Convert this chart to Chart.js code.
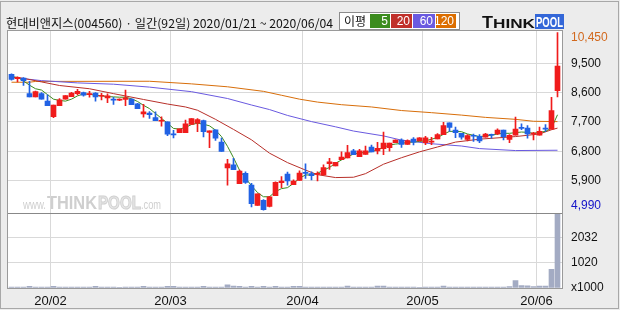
<!DOCTYPE html>
<html>
<head>
<meta charset="utf-8">
<script src="https://cdn.jsdelivr.net/npm/chart.js@4.4.1/dist/chart.umd.min.js"></script>
<style>
    html, body { margin: 0; padding: 0; background: #ececec; }
    canvas { display: block; }
</style>
</head>
<body>
<canvas id="graficoVelas" width="620" height="310"></canvas>
<script>
var titulo = '현대비앤지스(004560) · 일간(92일) 2020/01/21 ~ 2020/06/04';
var rotulosMes = ['20/02', '20/03', '20/04', '20/05', '20/06'];
// indice do primeiro pregao de cada mes
var inicioMes = [7, 27, 49, 69, 88];

var abertura = [9160, 9030, 9050, 8570, 8470, 8570, 8340, 7860, 8200, 8400,
    8480, 8570, 8600, 8540, 8590, 8490, 8440, 8380, 8370, 8390,
    8400, 8260, 7950, 7970, 7830, 7720, 7700, 7320, 7370, 7370,
    7620, 7660, 7740, 7380, 7460, 7080, 6290, 6380, 5800, 6120,
    5760, 5130, 5290, 5100, 5430, 5830, 6100, 5770, 5900, 6150,
    6110, 6090, 6070, 6420, 6350, 6540, 6590, 6810, 6630, 6700,
    6930, 6810, 6880, 6910, 7060, 7140, 7010, 7170, 7120, 7060,
    7080, 7180, 7310, 7670, 7450, 7350, 7160, 7290, 7260, 7230,
    7310, 7330, 7450, 7160, 7290, 7530, 7510, 7330, 7290, 7510,
    7480, 8660];
var maxima = [9180, 9090, 9060, 8950, 8650, 8600, 8530, 8220, 8420, 8510,
    8610, 8700, 8620, 8640, 8600, 8580, 8560, 8460, 8410, 8680,
    8410, 8270, 8240, 8020, 8010, 7860, 7700, 7440, 7490, 7760,
    7800, 7800, 7760, 7430, 7460, 7200, 6550, 6580, 6220, 6170,
    5810, 5490, 5310, 5410, 5860, 6020, 6160, 5920, 6200, 6410,
    6170, 6170, 6380, 6580, 6460, 6780, 6980, 6860, 6860, 6960,
    6990, 7070, 7390, 7050, 7150, 7180, 7150, 7220, 7220, 7260,
    7230, 7340, 7690, 7670, 7540, 7350, 7310, 7330, 7310, 7350,
    7330, 7490, 7450, 7310, 7850, 7640, 7590, 7380, 7540, 7620,
    8460, 10450];
var minima = [8980, 8930, 8820, 8470, 8470, 8400, 8200, 7830, 8200, 8400,
    8480, 8530, 8490, 8460, 8340, 8380, 8290, 8240, 8350, 8200,
    8230, 8110, 7850, 7810, 7740, 7570, 7280, 7210, 7370, 7370,
    7620, 7400, 7240, 6910, 7130, 6790, 5760, 6230, 5800, 5810,
    5090, 5130, 4990, 5090, 5430, 5680, 5760, 5770, 5900, 5960,
    5920, 5890, 6070, 6240, 6350, 6540, 6590, 6690, 6630, 6700,
    6780, 6720, 6690, 6800, 7060, 6920, 7010, 6990, 7120, 7000,
    7000, 7180, 7310, 7410, 7220, 7170, 7120, 7100, 7060, 7230,
    7200, 7310, 7150, 7060, 7290, 7460, 7200, 7150, 7290, 7410,
    7480, 8470];
var fechamento = [9010, 9070, 8970, 8470, 8630, 8400, 8200, 8220, 8380, 8510,
    8590, 8640, 8520, 8560, 8470, 8520, 8500, 8370, 8390, 8440,
    8230, 8110, 8010, 7920, 7740, 7750, 7320, 7300, 7490, 7640,
    7800, 7770, 7400, 7430, 7200, 6790, 6410, 6230, 6190, 5840,
    5190, 5490, 5000, 5400, 5840, 5880, 5890, 5880, 6130, 6120,
    6050, 6120, 6300, 6470, 6460, 6620, 6760, 6690, 6810, 6810,
    6780, 6890, 7050, 7050, 7140, 7010, 7130, 7080, 7210, 7210,
    7100, 7310, 7590, 7530, 7370, 7230, 7280, 7260, 7120, 7330,
    7290, 7450, 7250, 7290, 7480, 7500, 7330, 7360, 7410, 7480,
    8050, 9420];
// volume em milhares
var volume = [40, 40, 35, 70, 40, 35, 40, 70, 40, 35,
    35, 40, 35, 35, 70, 40, 35, 35, 30, 35,
    35, 40, 70, 35, 35, 40, 70, 70, 40, 35,
    40, 35, 70, 40, 35, 40, 130, 80, 70, 40,
    70, 40, 70, 40, 70, 40, 35, 70, 70, 40,
    35, 35, 40, 35, 35, 40, 80, 40, 35, 35,
    40, 80, 80, 35, 35, 40, 35, 35, 30, 35,
    35, 40, 80, 35, 35, 40, 35, 35, 35, 35,
    40, 35, 40, 55, 300, 100, 90, 55, 75, 80,
    750, 2980];

var media5 = [9090, 9070, 8960, 8830, 8720, 8680, 8540, 8400, 8360, 8340,
    8400, 8500, 8560, 8550, 8520, 8500, 8480, 8470, 8460, 8460,
    8410, 8330, 8210, 8110, 7960, 7810, 7660, 7500, 7480, 7530,
    7620, 7660, 7630, 7580, 7450, 7250, 6950, 6600, 6220, 5970,
    5740, 5530, 5400, 5400, 5560, 5650, 5680, 5810, 5970, 6070,
    6070, 6120, 6220, 6300, 6430, 6530, 6630, 6710, 6750, 6760,
    6790, 6840, 6920, 6990, 7020, 7040, 7070, 7080, 7100, 7120,
    7170, 7220, 7320, 7410, 7410, 7400, 7330, 7290, 7250, 7270,
    7290, 7330, 7350, 7350, 7370, 7390, 7380, 7350, 7380, 7410,
    7510, 7920];
var media20 = [[0, 9080], [2, 9040], [5, 8930], [8, 8820], [13, 8720], [17, 8570], [22, 8390],
    [26, 8250], [29, 8160], [31, 8060], [34, 7780], [37, 7470], [40, 7150], [43, 6740],
    [46, 6450], [49, 6220], [51, 6080], [54, 5990], [57, 6000], [59, 6110], [62, 6400],
    [65, 6600], [68, 6780], [71, 6930], [74, 7080], [78, 7170], [84, 7250], [88, 7330],
    [90, 7460], [91, 7510]];
var media60 = [[0, 9070], [2, 9030], [5, 8970], [11, 8900], [17, 8860], [23, 8770], [30, 8630],
    [36, 8420], [40, 8220], [43, 8080], [46, 7900], [50, 7710], [54, 7550], [57, 7420],
    [62, 7270], [65, 7140], [70, 7030], [75, 6960], [78, 6880], [84, 6820], [91, 6830]];
var media120 = [[0, 8920], [3, 8920], [4, 8945], [23, 8950], [30, 8870], [36, 8780], [42, 8640],
    [45, 8520], [48, 8400], [51, 8310], [55, 8230], [60, 8160], [65, 8050], [70, 7985],
    [75, 7910], [79, 7840], [84, 7780], [87, 7720], [91, 7710]];

var corAlta = '#f01c1c';
var corBaixa = '#2162e4';
var corGrade = '#d9d9d9';

function paraPontos(lista) {
    return lista.map(function (p) { return { x: p[0], y: p[1] }; });
}

function escreverAjustado(ctx, texto, x, y, largura) {
    var medida = ctx.measureText(texto).width;
    ctx.save();
    ctx.translate(x, y);
    ctx.scale(largura / medida, 1);
    ctx.fillText(texto, 0, 0);
    ctx.restore();
}

var cores = abertura.map(function (a, i) { return fechamento[i] >= a ? corAlta : corBaixa; });
var corpos = abertura.map(function (a, i) { return { x: i, y: [a, fechamento[i]] }; });
var pavios = abertura.map(function (a, i) { return { x: i, y: [minima[i], maxima[i]] }; });
var barrasVolume = volume.map(function (v, i) { return { x: i, y: v }; });
var linha5 = media5.map(function (v, i) { return { x: i, y: v }; });

var decoracao = {
    id: 'decoracao',
    beforeDraw: function (chart) {
        var ctx = chart.ctx, a = chart.chartArea;
        ctx.save();
        ctx.fillStyle = '#ececec';
        ctx.fillRect(0, 0, chart.width, chart.height);
        ctx.fillStyle = '#ffffff';
        ctx.fillRect(a.left, a.top, a.right - a.left, a.bottom - a.top);

        // marca d'agua
        ctx.textBaseline = 'alphabetic';
        ctx.fillStyle = '#cfcfcf';
        ctx.font = '12px "Liberation Sans"';
        escreverAjustado(ctx, 'www.', 23, 209, 23);
        ctx.font = 'bold 18px "Liberation Sans"';
        escreverAjustado(ctx, 'THINK', 47, 209, 50);
        ctx.fillStyle = '#e6e6e6';
        ctx.strokeStyle = '#d0d0d0';
        ctx.lineWidth = 1;
        ctx.save();
        ctx.translate(98, 209);
        ctx.scale(43 / ctx.measureText('POOL').width, 1);
        ctx.fillText('POOL', 0, 0);
        ctx.strokeText('POOL', 0, 0);
        ctx.restore();
        ctx.fillStyle = '#cfcfcf';
        ctx.font = '12px "Liberation Sans"';
        escreverAjustado(ctx, '.com', 141, 209, 20);
        ctx.restore();
    },
    afterDraw: function (chart) {
        var ctx = chart.ctx, a = chart.chartArea;
        var escalaPreco = chart.scales.y, escalaVolume = chart.scales.yv;
        ctx.save();

        // bordas do painel
        ctx.strokeStyle = '#9a9a9a';
        ctx.lineWidth = 1;
        ctx.strokeRect(a.left - 0.5, a.top - 0.5, a.right - a.left + 1, a.bottom - a.top + 1);
        ctx.strokeStyle = '#888888';
        ctx.beginPath();
        ctx.moveTo(a.left, Math.round(escalaVolume.top) + 0.5);
        ctx.lineTo(a.right, Math.round(escalaVolume.top) + 0.5);
        ctx.stroke();
        ctx.strokeStyle = '#a8a8a8';
        ctx.strokeRect(0.5, 1.5, 618, 307);

        // maxima e minima do periodo
        var topo = Math.max.apply(null, maxima);
        var fundoPreco = Math.min.apply(null, minima);
        var yTopo = Math.max(escalaPreco.getPixelForValue(topo), escalaPreco.top + 7);
        var yFundo = Math.min(escalaPreco.getPixelForValue(fundoPreco), escalaPreco.bottom - 7);
        ctx.font = '12px "Liberation Sans"';
        ctx.textBaseline = 'middle';
        ctx.textAlign = 'left';
        ctx.fillStyle = '#d2691e';
        ctx.fillText(topo.toLocaleString('en-US'), a.right + 9, yTopo);
        ctx.fillStyle = '#1414c8';
        ctx.fillText(fundoPreco.toLocaleString('en-US'), a.right + 9, yFundo);

        // titulo
        ctx.fillStyle = '#111111';
        ctx.font = '12px "Noto Sans CJK KR"';
        escreverAjustado(ctx, titulo, 6, 23, 327);

        // legenda das medias
        ctx.fillStyle = '#ffffff';
        ctx.fillRect(340, 13, 119, 16);
        ctx.strokeStyle = '#8c8c8c';
        ctx.strokeRect(339.5, 12.5, 120, 17);
        ctx.fillStyle = '#111111';
        ctx.font = '12px "Noto Sans CJK KR"';
        ctx.fillText('이평', 344, 21);
        var legenda = [['5', '#3c8c1e', 370, 20], ['20', '#c0302a', 391, 21], ['60', '#6a5ae0', 413, 22], ['120', '#dc6e00', 436, 20]];
        ctx.font = '12px "Liberation Sans"';
        ctx.textAlign = 'right';
        legenda.forEach(function (item) {
            ctx.fillStyle = item[1];
            ctx.fillRect(item[2], 14, item[3], 14);
            ctx.fillStyle = '#ffffff';
            ctx.fillText(item[0], item[2] + item[3] - 2, 21.5);
        });

        // logotipo
        ctx.textAlign = 'left';
        ctx.textBaseline = 'alphabetic';
        ctx.fillStyle = '#111111';
        ctx.font = 'bold 17px "Liberation Sans"';
        escreverAjustado(ctx, 'T', 482, 28, 11);
        ctx.font = 'bold 13px "Liberation Sans"';
        escreverAjustado(ctx, 'HINK', 493, 28, 42);
        ctx.fillStyle = '#3467d8';
        ctx.fillRect(535, 14, 29, 15);
        ctx.fillStyle = '#ffffff';
        ctx.font = 'bold 14px "Liberation Sans"';
        escreverAjustado(ctx, 'POOL', 536, 27, 27);
        ctx.restore();
    }
};

function inicializarGrafico() {
    var elemento = document.getElementById('graficoVelas');

    if (!elemento)
        return;

    var contexto = elemento.getContext('2d');

    new Chart(contexto, {
        data: {
            datasets: [{
                type: 'bar',
                data: corpos,
                backgroundColor: cores,
                barThickness: 5,
                minBarLength: 1,
                grouped: false,
                yAxisID: 'y',
                order: 0
            }, {
                type: 'bar',
                data: pavios,
                backgroundColor: cores,
                barThickness: 1,
                minBarLength: 1,
                grouped: false,
                yAxisID: 'y',
                order: 1
            }, {
                type: 'line',
                data: linha5,
                borderColor: '#3c8c1e',
                borderWidth: 1,
                pointRadius: 0,
                yAxisID: 'y',
                order: 2
            }, {
                type: 'line',
                data: paraPontos(media20),
                borderColor: '#b8302a',
                borderWidth: 1,
                pointRadius: 0,
                yAxisID: 'y',
                order: 3
            }, {
                type: 'line',
                data: paraPontos(media60),
                borderColor: '#6a5ae0',
                borderWidth: 1,
                pointRadius: 0,
                yAxisID: 'y',
                order: 4
            }, {
                type: 'line',
                data: paraPontos(media120),
                borderColor: '#d86e0a',
                borderWidth: 1,
                pointRadius: 0,
                yAxisID: 'y',
                order: 5
            }, {
                type: 'bar',
                data: barrasVolume,
                backgroundColor: '#a3abc3',
                barThickness: 5,
                grouped: false,
                yAxisID: 'yv',
                order: 6
            }]
        },
        options: {
            responsive: false,
            animation: false,
            devicePixelRatio: 1,
            layout: { padding: { left: 8, top: 31, right: 0, bottom: 0 } },
            scales: {
                x: {
                    type: 'linear',
                    offset: false,
                    min: -0.5833,
                    max: 91.75,
                    afterBuildTicks: function (escala) {
                        escala.ticks = inicioMes.map(function (i) { return { value: i - 0.5 }; });
                    },
                    afterFit: function (escala) { escala.height = 22; },
                    ticks: {
                        autoSkip: false,
                        maxRotation: 0,
                        padding: 6,
                        color: '#111111',
                        font: { size: 13, family: 'Liberation Sans' },
                        callback: function (valor, indice) { return rotulosMes[indice]; }
                    },
                    grid: { color: corGrade, drawTicks: false, offset: false },
                    border: { display: false }
                },
                y: {
                    type: 'linear',
                    position: 'right',
                    stack: 'painel',
                    stackWeight: 181.7,
                    min: 4910,
                    max: 10495,
                    afterBuildTicks: function (escala) {
                        escala.ticks = [5900, 6800, 7700, 8600, 9500].map(function (v) { return { value: v }; });
                    },
                    afterFit: function (escala) { escala.width = 58; },
                    ticks: {
                        padding: 9,
                        color: '#111111',
                        font: { size: 12, family: 'Liberation Sans' },
                        callback: function (valor) { return valor.toLocaleString('en-US'); }
                    },
                    grid: { color: corGrade, drawTicks: false },
                    border: { display: false }
                },
                yv: {
                    type: 'linear',
                    position: 'right',
                    stack: 'painel',
                    stackWeight: 75.3,
                    min: 0,
                    max: 3030,
                    afterBuildTicks: function (escala) {
                        escala.ticks = [0, 1020, 2032].map(function (v) { return { value: v }; });
                    },
                    afterFit: function (escala) { escala.width = 58; },
                    ticks: {
                        padding: 9,
                        color: '#111111',
                        font: { size: 12, family: 'Liberation Sans' },
                        callback: function (valor) { return valor === 0 ? 'x1000' : String(valor); }
                    },
                    grid: {
                        color: function (c) { return c.tick && c.tick.value === 0 ? 'rgba(0,0,0,0)' : corGrade; },
                        drawTicks: false
                    },
                    border: { display: false }
                }
            },
            plugins: {
                legend: { display: false },
                tooltip: { enabled: false }
            }
        },
        plugins: [decoracao]
    });
}

inicializarGrafico();
</script>
</body>
</html>
